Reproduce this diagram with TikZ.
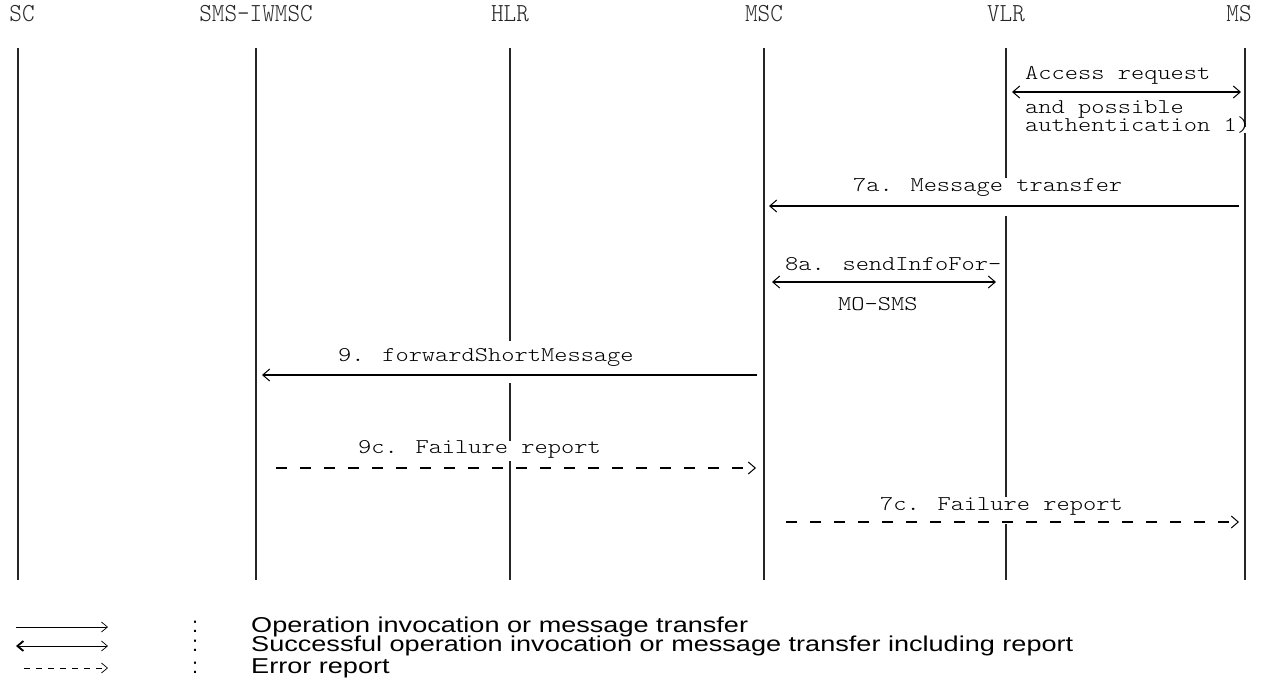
\documentclass[tikz,border=0pt]{standalone}
\usepackage{fontspec}
\usepackage{graphicx}
\setmainfont{Liberation Sans}
\usetikzlibrary{arrows.meta}
\newcommand\cwide[1]{\scalebox{1.2}[1]{#1}}
\newcommand\chead[1]{\scalebox{1.2}[1.3]{#1}}
\newcommand\lwide[1]{\scalebox{1.26}[1]{#1}}
\begin{document}
\begin{tikzpicture}[x=1pt,y=-1pt,
  hdr/.style={font=\ttfamily\fontseries{l}\fontsize{20}{20}\selectfont, inner sep=0pt, anchor=center, text=black!85},
  lbl/.style={font=\ttfamily\fontseries{l}\fontsize{21}{21}\selectfont, inner sep=0pt, anchor=west},
  life/.style={line width=1.8pt, draw=black!85},
  tipb/.tip={Straight Barb[length=7pt,width=12pt,line width=1pt]},
  msg/.style={line width=1.1pt, -tipb},
  bimsg/.style={line width=1.1pt, tipb-tipb},
  err/.style={msg, dash pattern=on 11pt off 13pt},
  leg/.style={font=\fontsize{21.5}{21.5}\selectfont, inner sep=0pt, anchor=west}]
\useasboundingbox (0,0) rectangle (1264,680);

% lifeline coordinates
\foreach \n/\x in {SC/18, IW/256, HLR/510, MSC/764, VLR/1006, MS/1245}{
  \coordinate (\n t) at (\x,48);
  \coordinate (\n b) at (\x,580);
}

% headers
\node[hdr] (hSC) at (22,14) {\chead{SC}};
\node[hdr] (hIW) at (256,14) {\chead{SMS-IWMSC}};
\node[hdr] (hHLR) at (510,14) {\chead{HLR}};
\node[hdr] (hMSC) at (764,14) {\chead{MSC}};
\node[hdr] (hVLR) at (1006,14) {\chead{VLR}};
\node[hdr] (hMS) at (1239,14) {\chead{MS}};

\draw[life] (SCt) -- (SCb);
\draw[life] (IWt) -- (IWb);
\draw[life] (MSCt) -- (MSCb);
\draw[life] (HLRt) -- (510,341) (510,383) -- (510,441) (510,461) -- (HLRb);
\draw[life] (VLRt) -- (1006,178) (1006,216) -- (1006,497) (1006,524) -- (VLRb);
\draw[life] (MSt) -- (1245,127) (1245,133) -- (MSb);

% Access request
\node[lbl] (acc) at (1025,75) {\cwide{Access request}};
\coordinate (accL) at (1012,92);
\coordinate (accR) at (1241,92);
\draw[bimsg] (accL) -- (accR);
\node[lbl] (poss) at (1025,109) {\cwide{and possible}};
\node[lbl] (auth) at (1025,125) {\cwide{authentication 1)}};

% 7a
\node[lbl] (m7a) at (853,187) {\cwide{7a. Message transfer}};
\coordinate (m7aR) at (1239,206);
\coordinate (m7aL) at (769,206);
\draw[msg] (m7aR) -- (m7aL);

% 8a
\node[lbl] (m8a) at (785,264) {\cwide{8a. sendInfoFor-}};
\coordinate (m8aL) at (772,282);
\coordinate (m8aR) at (996,282);
\draw[bimsg] (m8aL) -- (m8aR);
\node[lbl] (mo) at (838,304) {\cwide{MO-SMS}};

% 9
\node[lbl] (m9) at (338,357) {\cwide{9. forwardShortMessage}};
\coordinate (m9R) at (757,375);
\coordinate (m9L) at (262,375);
\draw[msg] (m9R) -- (m9L);

% 9c
\node[lbl] (m9c) at (358,449) {\cwide{9c. Failure report}};
\coordinate (m9cL) at (276,468);
\coordinate (m9cR) at (756,468);
\draw[err] (m9cL) -- (m9cR);

% 7c
\node[lbl] (m7c) at (880,506) {\cwide{7c. Failure report}};
\coordinate (m7cL) at (786,522);
\coordinate (m7cR) at (1239,522);
\draw[err] (m7cL) -- (m7cR);

% legend
\coordinate (l1a) at (16,627);  \coordinate (l1b) at (108,627);
\coordinate (l2a) at (16,646);  \coordinate (l2b) at (108,646);
\coordinate (l3a) at (24,668);  \coordinate (l3b) at (108,668);
\draw[line width=1pt, -{Straight Barb[length=6pt,width=10pt,line width=0.7pt]}] (l1a) -- (l1b);
\draw[line width=1pt, {Straight Barb[length=6pt,width=10pt,line width=1.8pt]}-{Straight Barb[length=6pt,width=10pt,line width=0.7pt]}] (l2a) -- (l2b);
\draw[line width=1pt, dash pattern=on 6pt off 6pt, -{Straight Barb[length=6pt,width=10pt,line width=0.7pt]}] (l3a) -- (l3b);
\node[leg] (c1) at (192,627) {:};
\node[leg] (c2) at (192,646) {:};
\node[leg] (c3) at (192,668) {:};
\node[leg] (t1) at (251,627) {\lwide{Operation invocation or message transfer}};
\node[leg] (t2) at (251,646) {\lwide{Successful operation invocation or message transfer including report}};
\node[leg] (t3) at (251,668) {\lwide{Error report}};
\end{tikzpicture}
\end{document}
